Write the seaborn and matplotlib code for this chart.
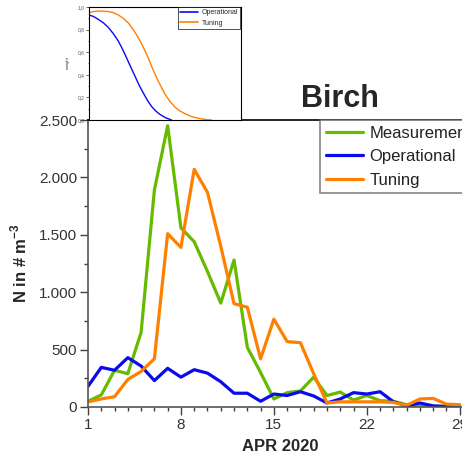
import numpy as np
import pandas as pd
import matplotlib
matplotlib.use("Agg")
import matplotlib.pyplot as plt
from matplotlib.ticker import FuncFormatter, MultipleLocator, FixedLocator
from matplotlib.lines import Line2D
import seaborn as sns

days = list(range(1, 30))
measurement = [50, 105, 320, 290, 650, 1890, 2450, 1560, 1440, 1180, 905, 1280, 520, 300, 70,
               125, 140, 260, 100, 130, 60, 100, 55, 50, 20, 10, 0, 0, 0]
operational = [180, 345, 320, 430, 357, 230, 337, 260, 325, 295, 220, 120, 120, 50, 113,
               100, 133, 96, 35, 70, 125, 113, 133, 46, 10, 35, 10, 5, 0]
tuning = [45, 70, 90, 240, 310, 420, 1510, 1390, 2070, 1870, 1400, 900, 870, 420, 765,
          570, 560, 290, 35, 45, 45, 45, 45, 40, 15, 70, 75, 25, 20]

# inset curves (fraction of inset x-range, weight)
op_x = [0.0, 0.031, 0.062, 0.095, 0.127, 0.160, 0.193, 0.220, 0.248, 0.275, 0.303, 0.330,
        0.358, 0.385, 0.413, 0.440, 0.468, 0.505, 0.545]
op_y = [0.93, 0.915, 0.89, 0.86, 0.82, 0.765, 0.70, 0.63, 0.55, 0.47, 0.39, 0.31,
        0.24, 0.175, 0.12, 0.08, 0.05, 0.02, 0.0]
tu_x = [0.0, 0.031, 0.062, 0.095, 0.127, 0.160, 0.193, 0.226, 0.259, 0.292, 0.325, 0.358,
        0.391, 0.418, 0.446, 0.474, 0.501, 0.534, 0.567, 0.600, 0.633, 0.677, 0.721, 0.765, 0.809]
tu_y = [0.95, 0.96, 0.965, 0.963, 0.96, 0.95, 0.93, 0.90, 0.86, 0.80, 0.73, 0.645,
        0.55, 0.46, 0.375, 0.30, 0.23, 0.165, 0.115, 0.08, 0.056, 0.03, 0.015, 0.005, 0.0]

x_ticks = [1, 8, 15, 22, 29]
y_ticks = [0, 500, 1000, 1500, 2000, 2500]
inset_ticks = [0.0, 0.2, 0.4, 0.6, 0.8, 1.0]

c_green = "#66bb00"
c_blue = "#0a0af0"
c_orange = "#ff8000"

sns.set_theme(style="ticks")
plt.rcParams["font.family"] = ["Liberation Sans", "DejaVu Sans"]
plt.rcParams["mathtext.fontset"] = "custom"
plt.rcParams["mathtext.bf"] = "Liberation Sans:bold"
plt.rcParams["mathtext.rm"] = "Liberation Sans"

df = pd.DataFrame({
    "day": days * 3,
    "value": measurement + operational + tuning,
    "series": ["Measurement"] * 29 + ["Operational"] * 29 + ["Tuning"] * 29,
})

fig = plt.figure(figsize=(4.62, 4.58), dpi=100)
ax = fig.add_axes([88 / 462, 1 - 407 / 458, 385 / 462, 287 / 458])
sns.lineplot(data=df, x="day", y="value", hue="series",
             palette={"Measurement": c_green, "Operational": c_blue, "Tuning": c_orange},
             linewidth=2.3, ax=ax, legend=False)
ax.set_xlim(1, 30)
ax.set_ylim(0, 2500)
ax.xaxis.set_major_locator(FixedLocator(x_ticks))
ax.xaxis.set_minor_locator(MultipleLocator(1))
ax.yaxis.set_major_locator(FixedLocator(y_ticks))
ax.yaxis.set_minor_locator(MultipleLocator(250))
ax.yaxis.set_major_formatter(FuncFormatter(lambda v, p: f"{int(v):,}".replace(",", ".")))
ax.tick_params(axis="both", which="major", length=6, width=1.0, color="#404040",
               labelsize=11, labelcolor="#333333", direction="out", pad=2)
ax.tick_params(axis="both", which="minor", length=3, width=1.0, color="#404040", direction="out")
for s in ["left", "bottom"]:
    ax.spines[s].set_color("#555555")
    ax.spines[s].set_linewidth(1.2)
ax.spines["top"].set_color("black")
ax.spines["top"].set_linewidth(1.2)
ax.spines["right"].set_visible(False)
ax.set_xlabel("APR 2020", fontsize=12, fontweight="bold", labelpad=5)
ax.set_ylabel("N in # m$^{\\mathbf{-3}}$", fontsize=12, fontweight="bold", labelpad=7)

handles = [Line2D([], [], color=c_green, lw=2.3), Line2D([], [], color=c_blue, lw=2.3),
           Line2D([], [], color=c_orange, lw=2.3)]
leg = ax.legend(handles, ["Measurement", "Operational", "Tuning"], loc="upper left",
                bbox_to_anchor=((320 - 88) / 385, 1.0), fontsize=12, frameon=True, fancybox=False,
                handlelength=2.2, handletextpad=0.4, labelspacing=0.5, borderpad=0.35,
                borderaxespad=0.0)
leg.get_frame().set_edgecolor("#666666")
leg.get_frame().set_linewidth(1.2)
for t in leg.get_texts():
    t.set_color("#222222")

fig.text(340 / 462, 1 - 99 / 458, "Birch", fontsize=22, fontweight="bold", ha="center", va="center")

ins = fig.add_axes([89 / 462, 1 - 120 / 458, 151.5 / 462, 113 / 458])
sns.lineplot(x=op_x, y=op_y, color=c_blue, linewidth=1.0, ax=ins, label="Operational")
sns.lineplot(x=tu_x, y=tu_y, color=c_orange, linewidth=1.0, ax=ins, label="Tuning")
ins.set_xlim(0, 1)
ins.set_ylim(0, 1)
ins.set_xticks([])
ins.yaxis.set_major_locator(FixedLocator(inset_ticks))
ins.yaxis.set_minor_locator(MultipleLocator(0.1))
ins.yaxis.set_major_formatter(FuncFormatter(lambda v, p: f"{v:.1f}".replace(".", ",")))
ins.tick_params(axis="y", which="major", length=2, width=0.5, labelsize=3.5, pad=1, labelcolor="#555555")
ins.tick_params(axis="y", which="minor", length=1, width=0.5)
ins.set_ylabel("weight", fontsize=3, labelpad=6)
for s in ins.spines.values():
    s.set_linewidth(0.8)
    s.set_color("black")
ileg = ins.legend(loc="upper right", fontsize=5, frameon=True, fancybox=False,
                  handlelength=2.6, handletextpad=0.5, borderpad=0.35, labelspacing=0.5,
                  borderaxespad=0.0)
ileg.get_frame().set_edgecolor("black")
ileg.get_frame().set_linewidth(0.6)
for line in ileg.get_lines():
    line.set_linewidth(1.2)

fig.savefig("out.png", dpi=100)
